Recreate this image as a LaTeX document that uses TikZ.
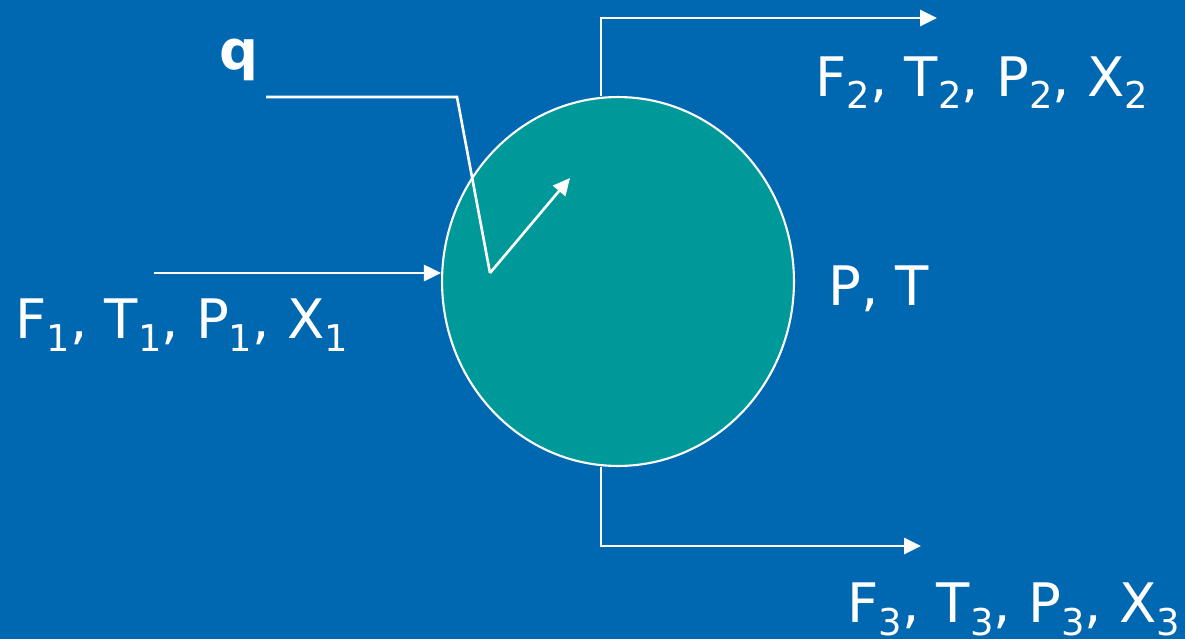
\documentclass[tikz,border=0pt]{standalone}
\usepackage{fontspec}
\setmainfont{DejaVu Sans}
\usetikzlibrary{positioning,shapes,arrows.meta}
\definecolor{bgblue}{RGB}{0,103,177}
\definecolor{tankteal}{RGB}{0,153,153}
\newcommand{\sub}[1]{\raisebox{-0.26cm}{\fontsize{21}{21}\selectfont #1}}
\newcommand{\stream}[1]{F\sub{#1}, T\sub{#1}, P\sub{#1}, X\sub{#1}}

\begin{document}
\begin{tikzpicture}[x=0.02cm,y=-0.02cm,
  flow/.style={draw=white,line width=1.5pt,-{Triangle[length=0.34cm,width=0.32cm]}},
  pipe/.style={draw=white,line width=1.5pt},
  lbl/.style={text=white,font=\fontsize{31}{36}\selectfont,inner sep=0pt,anchor=base west}]
\useasboundingbox (0,0) rectangle (1185,639);
\fill[bgblue] (0,0) rectangle (1185,639);
\node[ellipse,draw=white,fill=tankteal,line width=1.2pt,inner sep=0pt,
  minimum width=7.04cm,minimum height=7.38cm] (tank) at (618,281.5) {};
% streams
\coordinate (feed) at (154,273);
\coordinate (top) at (601,18);
\coordinate (topend) at (937,18);
\coordinate (bot) at (601,546);
\coordinate (botend) at (921,546);
\draw[flow] (feed) -- (feed -| tank.west);
\draw[flow] (top |- tank.north) -- (top) -- (topend);
\draw[flow] (bot |- tank.south) -- (bot) -- (botend);
% heat input
\coordinate (qin) at (266,97);
\coordinate (qbend) at (457,97);
\coordinate (qend) at (490,273);
\coordinate (heat) at (570,178);
\draw[pipe] (qin) -- (qbend) -- (qend);
\draw[flow] (qend) -- (heat);
% labels
\node[lbl] (q) at (219,69) {\fontsize{31}{36}\selectfont\bfseries q};
\node[lbl] (in) at (15,338) {\stream{1}};
\node[lbl] (out2) at (815,96) {\stream{2}};
\node[lbl] (out3) at (847,622) {\stream{3}};
\node[lbl] (state) at (828,305) {P, T};
\end{tikzpicture}
\end{document}
